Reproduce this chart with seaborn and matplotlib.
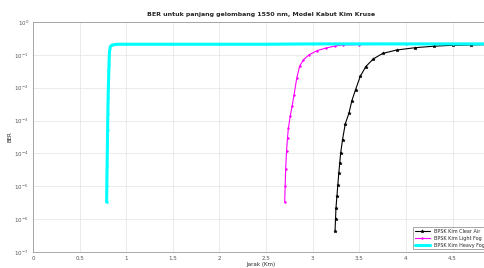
import numpy as np
import matplotlib
matplotlib.use("Agg")
import matplotlib.pyplot as plt
import pandas as pd
import seaborn as sns

# distance (km) and BER values
jarak_heavy = [0.79, 0.792, 0.795, 0.798, 0.80, 0.803, 0.806, 0.81, 0.815, 0.82, 0.83, 0.85,
               0.9, 1.0, 1.5, 2.0, 2.5, 3.0, 3.5, 4.0, 4.5, 4.9]
ber_heavy = [3.3e-6, 1.0e-5, 4.0e-5, 1.5e-4, 5.0e-4, 1.6e-3, 5.0e-3, 1.5e-2, 5.0e-2, 0.12, 0.18, 0.20,
             0.21, 0.21, 0.21, 0.21, 0.21, 0.215, 0.215, 0.215, 0.215, 0.215]

jarak_light = [2.70, 2.705, 2.71, 2.72, 2.73, 2.74, 2.76, 2.78, 2.80, 2.83, 2.86, 2.90, 2.96,
               3.05, 3.14, 3.24, 3.32, 3.5, 4.0, 4.5, 4.9]
ber_light = [3.3e-6, 1.0e-5, 3.3e-5, 1.2e-4, 3.0e-4, 6.0e-4, 1.4e-3, 2.8e-3, 6.0e-3, 2.0e-2, 4.5e-2,
             7.0e-2, 0.10, 0.135, 0.16, 0.185, 0.20, 0.205, 0.21, 0.21, 0.21]

jarak_thin = [3.24, 3.245, 3.25, 3.26, 3.27, 3.28, 3.29, 3.30, 3.32, 3.35, 3.39, 3.42, 3.46,
              3.51, 3.57, 3.65, 3.75, 3.9, 4.1, 4.3, 4.5, 4.7, 4.9]
ber_thin = [4.4e-7, 1.0e-6, 2.2e-6, 5.0e-6, 1.1e-5, 2.5e-5, 5.0e-5, 1.0e-4, 2.6e-4, 8.0e-4, 1.7e-3,
            4.0e-3, 8.7e-3, 2.2e-2, 4.4e-2, 7.5e-2, 0.11, 0.14, 0.165, 0.183, 0.195, 0.2, 0.205]

labels = ["BPSK Kim Clear Air", "BPSK Kim Light Fog", "BPSK Kim Heavy Fog"]

df = pd.concat([
    pd.DataFrame({"jarak": jarak_thin, "ber": ber_thin, "seri": labels[0]}),
    pd.DataFrame({"jarak": jarak_light, "ber": ber_light, "seri": labels[1]}),
    pd.DataFrame({"jarak": jarak_heavy, "ber": ber_heavy, "seri": labels[2]}),
])

sns.set_style("whitegrid")
plt.rcParams["font.family"] = ["DejaVu Sans"]

fig = plt.figure(figsize=(4.85, 2.68), dpi=100)
ax = fig.add_axes([0.068, 0.06, 0.94, 0.858])

warna = {labels[0]: "black", labels[1]: "magenta", labels[2]: "cyan"}
tebal = {labels[0]: 0.8, labels[1]: 0.8, labels[2]: 2.2}
penanda = {labels[0]: "*", labels[1]: ".", labels[2]: "."}
for s in labels:
    d = df[df["seri"] == s]
    sns.lineplot(data=d, x="jarak", y="ber", ax=ax, color=warna[s], lw=tebal[s],
                 marker=penanda[s], markersize=2.5, markeredgewidth=0.4,
                 markeredgecolor=warna[s], markerfacecolor=warna[s],
                 label=s, sort=False, estimator=None)

ax.set_yscale("log")
ax.set_ylim(1e-7, 1)
ax.set_xlim(0, 4.89)
ax.set_xticks(np.arange(0, 4.6, 0.5))
ax.set_xticklabels(["0", "0.5", "1", "1.5", "2", "2.5", "3", "3.5", "4", "4.5"])
ax.set_yticks([10.0 ** k for k in range(-7, 1)])
ax.tick_params(labelsize=4, length=2, pad=1, colors="#555555")
ax.grid(True, which="major", color="#e3e3e3", lw=0.5)
for sp in ax.spines.values():
    sp.set_color("#888888")
    sp.set_linewidth(0.5)

ax.set_title("BER untuk panjang gelombang 1550 nm, Model Kabut Kim Kruse", fontsize=4.5,
             fontweight="bold", pad=4)
ax.set_xlabel("Jarak (Km)", fontsize=4, labelpad=1)
ax.set_ylabel("BER", fontsize=4, labelpad=1)

leg = ax.legend(loc="lower right", fontsize=3.5, frameon=True, fancybox=False,
                edgecolor="#666666", handlelength=3, borderpad=0.4, labelspacing=0.4)
leg.get_frame().set_linewidth(0.5)

fig.savefig("out.png", dpi=100)
